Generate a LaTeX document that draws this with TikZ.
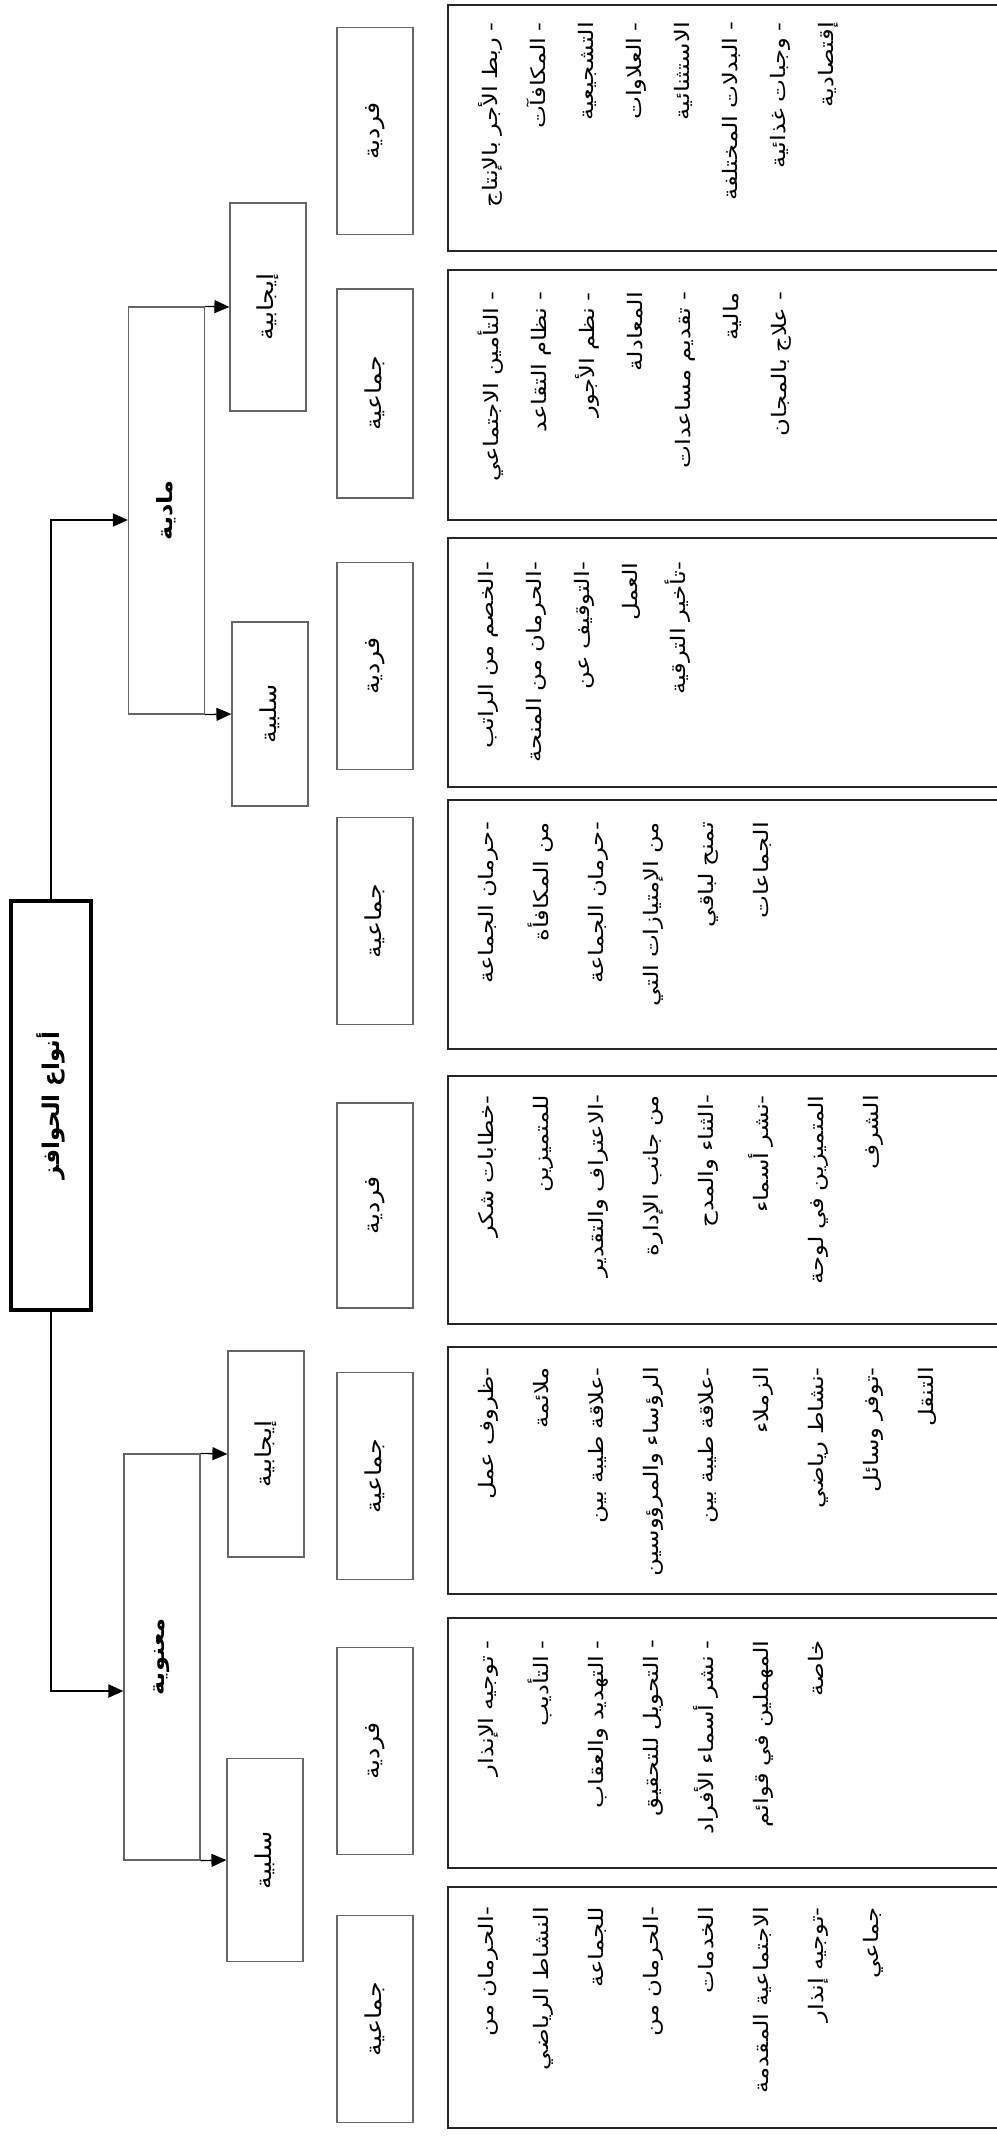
\documentclass[tikz,border=0pt]{standalone}
\usepackage{fontspec}
\usepackage{graphicx}
\usetikzlibrary{arrows.meta,calc}
\newfontfamily\arabicfont[Script=Arabic, FakeStretch=1.22]{DejaVu Sans}
\newfontfamily\arablab[Script=Arabic, FakeStretch=1.15]{DejaVu Sans}
\newfontfamily\arabroot[Script=Arabic]{DejaVu Sans}
\TeXXeTstate=1
\newcommand{\artxt}[1]{{\arabicfont\beginR #1\endR}}
\newcommand{\lbtxt}[1]{{\arablab\beginR #1\endR}}
\newcommand{\rlab}[1]{\rotatebox{90}{\lbtxt{#1}}}
\tikzset{
  lbl/.style={draw=black!60, line width=1.2pt, minimum width=76pt, inner sep=0pt,
    font=\fontsize{22}{26}\selectfont},
  lvlone/.style={lbl, font=\bfseries\fontsize{21}{26}\selectfont},
  rootbox/.style={draw=black, line width=4pt, minimum width=80pt, inner sep=0pt,
    font=\bfseries\fontsize{23}{26}\selectfont},
  cbox/.style={draw=black!85, line width=2pt, minimum width=552pt, inner sep=0pt},
  ctxt/.style={rotate=90, anchor=north east, align=right, text width=235pt, inner sep=0pt},
  ctxtA/.style={ctxt, font=\fontsize{20}{48}\selectfont},
  ctxtB/.style={ctxt, font=\fontsize{20}{55}\selectfont},
  arr/.style={-{Triangle[length=15pt,width=13pt]}, line width=1.3pt},
  arrthick/.style={-{Triangle[length=15pt,width=13pt]}, line width=2pt}
}
\begin{document}
\begin{tikzpicture}[x=1pt,y=-1pt]
\useasboundingbox (0,0) rectangle (996,2141);
\fill[white] (0,0) rectangle (996,2141);

% root
\node[rootbox, minimum height=409pt] (root) at (51,1105.5) {\rotatebox{90}{\bfseries{\arabroot\beginR أنواع الحوافز\endR}}};

% level 1
\node[lvlone, minimum height=407pt] (mad) at (166.5,510.5) {\rotatebox{90}{\bfseries\lbtxt{مادية}}};
\node[lvlone, minimum height=406pt] (man) at (162,1657) {\rotatebox{90}{\bfseries\lbtxt{معنوية}}};

% level 2
\node[lbl, minimum height=208pt] (ijM) at (268,307) {\rlab{إيجابية}};
\node[lbl, minimum height=184pt] (slM) at (270,714) {\rlab{سلبية}};
\node[lbl, minimum height=206pt] (ijN) at (266,1454) {\rlab{إيجابية}};
\node[lbl, minimum height=203pt] (slN) at (265,1860) {\rlab{سلبية}};

% level 3
\node[lbl, minimum height=207pt] (f1) at (375,131) {\rlab{فردية}};
\node[lbl, minimum height=209pt] (g2) at (375,393.5) {\rlab{جماعية}};
\node[lbl, minimum height=207pt] (f3) at (375,666) {\rlab{فردية}};
\node[lbl, minimum height=207pt] (g4) at (375,921) {\rlab{جماعية}};
\node[lbl, minimum height=205pt] (f5) at (375,1205.5) {\rlab{فردية}};
\node[lbl, minimum height=207pt] (g6) at (375,1476) {\rlab{جماعية}};
\node[lbl, minimum height=207pt] (f7) at (375,1751) {\rlab{فردية}};
\node[lbl, minimum height=207pt] (g8) at (375,2019) {\rlab{جماعية}};

% content boxes
\node[cbox, minimum height=246pt] (c1) at (724,128) {};
\node[cbox, minimum height=250pt] (c2) at (724,395) {};
\node[cbox, minimum height=249pt] (c3) at (724,662.5) {};
\node[cbox, minimum height=249pt] (c4) at (724,924.5) {};
\node[cbox, minimum height=248pt] (c5) at (724,1200) {};
\node[cbox, minimum height=247pt] (c6) at (724,1470.5) {};
\node[cbox, minimum height=250pt] (c7) at (724,1743) {};
\node[cbox, minimum height=241pt] (c8) at (724,2007.5) {};

% content texts
\node[ctxtA] (t1) at (478,22) {\artxt{- ربط الأجر بالإنتاج}\\\artxt{- المكافآت}\\\artxt{التشجيعية}\\\artxt{- العلاوات}\\\artxt{الاستثنائية}\\\artxt{- البدلات المختلفة}\\\artxt{- وجبات غذائية}\\\artxt{إقتصادية}};
\node[ctxtA] (t2) at (478,292) {\artxt{- التأمين الاجتماعي}\\\artxt{- نظام التقاعد}\\\artxt{- نظم الأجور}\\\artxt{المعادلة}\\\artxt{- تقديم مساعدات}\\\artxt{مالية}\\\artxt{- علاج بالمجان}};
\node[ctxtA] (t3) at (478,562) {\artxt{-الخصم من الراتب}\\\artxt{-الحرمان من المنحة}\\\artxt{-التوقيف عن}\\\artxt{العمل}\\\artxt{-تأخير الترقية}};
\node[ctxtB] (t4) at (478,822) {\artxt{-حرمان الجماعة}\\\artxt{من المكافأة}\\\artxt{-حرمان الجماعة}\\\artxt{من الإمتيازات التي}\\\artxt{تمنح لباقي}\\\artxt{الجماعات}};
\node[ctxtB] (t5) at (478,1095) {\artxt{-خطابات شكر}\\\artxt{للمتميزين}\\\artxt{-الاعتراف والتقدير}\\\artxt{من جانب الإدارة}\\\artxt{-الثناء والمدح}\\\artxt{-نشر أسماء}\\\artxt{المتميزين في لوحة}\\\artxt{الشرف}};
\node[ctxtB] (t6) at (478,1367) {\artxt{-ظروف عمل}\\\artxt{ملائمة}\\\artxt{-علاقة طيبة بين}\\\artxt{الرؤساء والمرؤوسين}\\\artxt{-علاقة طيبة بين}\\\artxt{الزملاء}\\\artxt{-نشاط رياضي}\\\artxt{-توفر وسائل}\\\artxt{التنقل}};
\node[ctxtB] (t7) at (478,1640) {\artxt{- توجيه الإنذار}\\\artxt{- التأديب}\\\artxt{- التهديد والعقاب}\\\artxt{- التحويل للتحقيق}\\\artxt{- نشر أسماء الأفراد}\\\artxt{المهملين في قوائم}\\\artxt{خاصة}};
\node[ctxtB] (t8) at (478,1907) {\artxt{-الحرمان من}\\\artxt{النشاط الرياضي}\\\artxt{للجماعة}\\\artxt{-الحرمان من}\\\artxt{الخدمات}\\\artxt{الاجتماعية المقدمة}\\\artxt{-توجيه إنذار}\\\artxt{جماعي}};

% connectors
\draw[arrthick] (root.north) |- ([yshift=-9.5pt]mad.west);
\draw[arrthick] (root.south) |- ([yshift=-34pt]man.west);
\draw[arr] (mad.north east) -- (ijM.west);
\draw[arr] (mad.south east) -- (slM.west);
\draw[arr] (man.north east) -- (ijN.west);
\draw[arr] (man.south east) -- (slN.west);
\end{tikzpicture}
\end{document}
